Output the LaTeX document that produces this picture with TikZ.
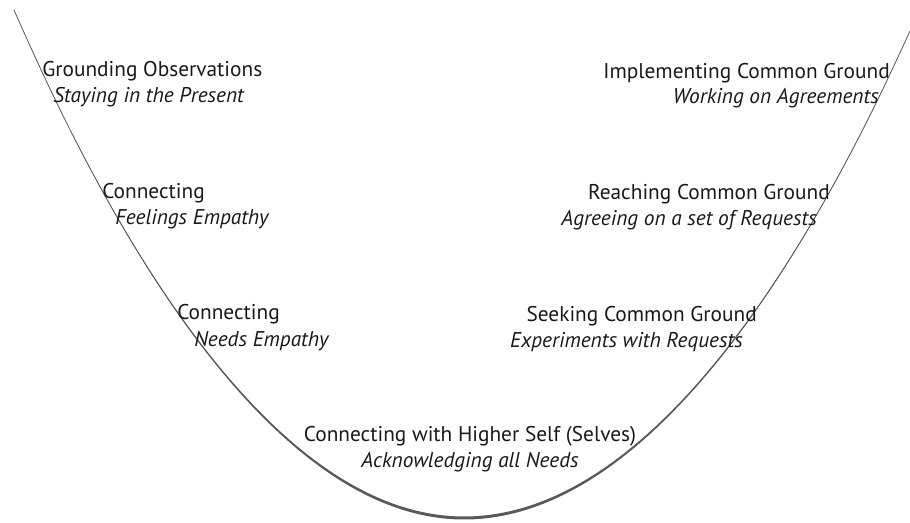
\documentclass[tikz,border=0pt]{standalone}
\usepackage{fontspec}
\setmainfont{PT Sans}

\tikzset{
  stage/.style={inner sep=0pt, text=black!90, font=\fontsize{16}{19}\selectfont},
  task/.style={stage, font=\fontsize{16}{19}\selectfont\itshape},
  valley/.style={draw=black!65, line width=0.55pt}
}

\begin{document}
\begin{tikzpicture}[x=0.75pt,y=-0.75pt]
            \useasboundingbox (0,0) rectangle (910,523);
            %
            % The valley: a thin stroke, thickened towards the bottom
            \fill [black!65] (14,10) parabola bend (464,519.5) (910,31) parabola bend (464,516.5) (14,10);
            \draw [valley] (14,10) parabola bend (464,518) (910,31);
            %
            % Going down on the left
            \node [stage, anchor=base west] (observe) at (42,76.5) {Grounding Observations};
            \node [task, anchor=base west] (present) at (53,102.5) {Staying in the Present};
            \node [stage, anchor=base west] (feelcon) at (102,199) {Connecting};
            \node [task, anchor=base west] (feelings) at (115,224.5) {Feelings Empathy};
            \node [stage, anchor=base west] (needcon) at (177,320) {Connecting};
            \node [task, anchor=base west] (needs) at (194,347) {Needs Empathy};
            %
            % The bottom of the valley
            \node [stage, anchor=base] (higher) at (470,442) {Connecting with Higher Self (Selves)};
            \node [task, anchor=base] (allneeds) at (470,468) {Acknowledging all Needs};
            %
            % Coming up on the right
            \node [stage, anchor=base east] (seeking) at (757,322) {Seeking Common Ground};
            \node [task, anchor=base east] (experiments) at (743,348) {Experiments with Requests};
            \node [stage, anchor=base east] (reaching) at (830,200) {Reaching Common Ground};
            \node [task, anchor=base east] (agreeing) at (817,225.5) {Agreeing on a set of Requests};
            \node [stage, anchor=base east] (implementing) at (890,78.5) {Implementing Common Ground};
            \node [task, anchor=base east] (working) at (879,104) {Working on Agreements};
            %
        \end{tikzpicture}
\end{document}
